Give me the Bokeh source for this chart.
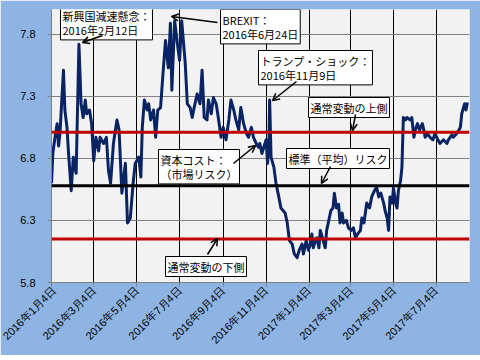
import pandas as pd
from math import pi
from bokeh.plotting import figure
from bokeh.models import (Range1d, FixedTicker, CustomJSTickFormatter, Span, Label,
                          Arrow, OpenHead, ColumnDataSource)
from bokeh.embed import file_html
from bokeh.resources import INLINE

# ---------------- data ----------------
dates = [
    "2016-01-04", "2016-01-06", "2016-01-09", "2016-01-12", "2016-01-14", "2016-01-16",
    "2016-01-21", "2016-01-23", "2016-01-26", "2016-01-28", "2016-02-01", "2016-02-04",
    "2016-02-08", "2016-02-12", "2016-02-15", "2016-02-18", "2016-02-21", "2016-02-23",
    "2016-02-27", "2016-03-01", "2016-03-04", "2016-03-07", "2016-03-11", "2016-03-13",
    "2016-03-18", "2016-03-22", "2016-03-25", "2016-03-28", "2016-04-01", "2016-04-06",
    "2016-04-09", "2016-04-13", "2016-04-18", "2016-04-21", "2016-04-25", "2016-04-29",
    "2016-05-02", "2016-05-07", "2016-05-10", "2016-05-12", "2016-05-15", "2016-05-19",
    "2016-05-21", "2016-05-24", "2016-05-28", "2016-05-31", "2016-06-03", "2016-06-07",
    "2016-06-10", "2016-06-14", "2016-06-18", "2016-06-21", "2016-06-23", "2016-06-27",
    "2016-07-01", "2016-07-04", "2016-07-07", "2016-07-12", "2016-07-15", "2016-07-19",
    "2016-07-22", "2016-07-24", "2016-07-29", "2016-08-02", "2016-08-05", "2016-08-08",
    "2016-08-12", "2016-08-14", "2016-08-18", "2016-08-21", "2016-08-25", "2016-08-28",
    "2016-09-01", "2016-09-04", "2016-09-08", "2016-09-12", "2016-09-15", "2016-09-19",
    "2016-09-22", "2016-09-26", "2016-09-29", "2016-10-03", "2016-10-07", "2016-10-10",
    "2016-10-14", "2016-10-17", "2016-10-21", "2016-10-24", "2016-10-26", "2016-10-29",
    "2016-11-04", "2016-11-06", "2016-11-08", "2016-11-09", "2016-11-11", "2016-11-15",
    "2016-11-18", "2016-11-22", "2016-11-25", "2016-11-28", "2016-12-01", "2016-12-04",
    "2016-12-07", "2016-12-11", "2016-12-14", "2016-12-18", "2016-12-21", "2016-12-25",
    "2016-12-27", "2016-12-31",
    "2017-01-03", "2017-01-06", "2017-01-08", "2017-01-10", "2017-01-13", "2017-01-15",
    "2017-01-18", "2017-01-20", "2017-01-24", "2017-01-27", "2017-01-29", "2017-02-01",
    "2017-02-04", "2017-02-07", "2017-02-09", "2017-02-12", "2017-02-15", "2017-02-17",
    "2017-02-20", "2017-02-22", "2017-02-26", "2017-03-01", "2017-03-05", "2017-03-08",
    "2017-03-11", "2017-03-14", "2017-03-18", "2017-03-20", "2017-03-23", "2017-03-25",
    "2017-03-27", "2017-03-31", "2017-04-03", "2017-04-07", "2017-04-10", "2017-04-13",
    "2017-04-16", "2017-04-20", "2017-04-22", "2017-04-25", "2017-04-27", "2017-04-29",
    "2017-05-02", "2017-05-04", "2017-05-07", "2017-05-09", "2017-05-11", "2017-05-14",
    "2017-05-16", "2017-05-18", "2017-05-21", "2017-05-23", "2017-05-28", "2017-05-30",
    "2017-06-02", "2017-06-04", "2017-06-07", "2017-06-10", "2017-06-14", "2017-06-16",
    "2017-06-18", "2017-06-21", "2017-06-25", "2017-06-29", "2017-07-02", "2017-07-06",
    "2017-07-09", "2017-07-14", "2017-07-19", "2017-07-21", "2017-07-26", "2017-07-28",
    "2017-08-02", "2017-08-07", "2017-08-09", "2017-08-13", "2017-08-15", "2017-08-17",
]
values = [
    6.60, 6.85, 6.97, 7.08, 6.90, 7.00,
    7.51, 7.19, 7.05, 6.86, 6.54, 6.81,
    6.68, 7.72, 7.24, 7.13, 7.27, 7.16,
    7.19, 7.08, 6.78, 6.97, 6.86, 6.97,
    6.92, 6.97, 6.70, 6.60, 6.92, 7.11,
    7.03, 6.52, 6.76, 6.28, 6.32, 6.60,
    6.76, 6.81, 6.65, 7.05, 7.27, 7.19,
    7.24, 7.11, 7.19, 6.97, 7.19, 7.21,
    7.45, 7.75, 7.53, 7.89, 7.35, 7.91,
    7.72, 7.59, 7.91, 7.57, 7.24, 7.21,
    7.13, 7.19, 7.32, 7.24, 7.51, 7.13,
    7.11, 7.27, 7.16, 7.29, 7.24, 7.13,
    6.97, 7.05, 6.95, 7.11, 7.27, 7.19,
    7.11, 7.03, 7.21, 7.08, 7.00, 6.97,
    7.05, 6.97, 6.92, 6.89, 6.92, 6.84,
    6.95, 6.76, 6.90, 7.27, 6.81, 6.73,
    6.60, 6.49, 6.40, 6.38, 6.36, 6.28,
    6.14, 6.11, 6.03, 6.00, 6.06, 6.11,
    6.03, 6.14,
    6.06, 6.11, 6.19, 6.08, 6.14, 6.16,
    6.08, 6.22, 6.14, 6.08, 6.22, 6.30,
    6.38, 6.40, 6.52, 6.40, 6.43, 6.28,
    6.36, 6.28, 6.30, 6.24, 6.22, 6.24,
    6.16, 6.19, 6.22, 6.32, 6.28, 6.36,
    6.44, 6.40, 6.49, 6.54, 6.57, 6.49,
    6.52, 6.44, 6.38, 6.32, 6.22, 6.49,
    6.44, 6.56, 6.44, 6.40, 6.54, 6.62,
    6.73, 7.13, 7.11, 7.13, 7.11, 7.13,
    6.97, 7.03, 7.08, 7.03, 7.08, 7.03,
    6.97, 7.00, 6.97, 6.95, 7.00, 6.95,
    6.92, 6.95, 6.92, 6.95, 6.99, 6.97,
    7.00, 7.05, 7.16, 7.24, 7.19, 7.25,
]
tick_dates = ["2016-01-04", "2016-03-04", "2016-05-04", "2016-07-04", "2016-09-04",
              "2016-11-04", "2017-01-04", "2017-03-04", "2017-05-04", "2017-07-04"]
y_ticks = [5.8, 6.3, 6.8, 7.3, 7.8]
mean_level = 6.58    # 標準（平均）リスク
upper_level = 7.01   # 通常変動の上側
lower_level = 6.15   # 通常変動の下側
x_first, x_last = "2016-01-04", "2017-08-20"
y_first, y_last = 5.8, 8.0

# text, text top-left (px), arrow start (px), arrow end (px)
annotations = [
    ("新興国減速懸念：\n2016年2月12日", (60, 5), (102, 35), (82, 42)),
    ("BREXIT：\n2016年6月24日", (220, 9), (217, 22), (171, 16)),
    ("トランプ・ショック：\n2016年11月9日", (258, 50), (296, 81), (272, 100)),
    ("通常変動の上側", (308, 97), (355, 114), (352, 130)),
    ("標準（平均）リスク", (286, 148), (330, 166), (321, 183)),
    ("資本コスト：\n（市場リスク）", (158, 149), (233, 163), (255, 145)),
    ("通常変動の下側", (165, 256), (207, 254), (217, 238)),
]


def ms(s):
    return pd.Timestamp(s).value / 1e6


# ---------------- layout ----------------
W, H = 480, 355
LEFT, RIGHT, TOP, BOTTOM = 51, 11, 9, 73
FW, FH = W - LEFT - RIGHT, H - TOP - BOTTOM


def X(px):
    return ms(x_first) + (px - LEFT) / FW * (ms(x_last) - ms(x_first))


def Y(py):
    return y_last - (py - TOP) / FH * (y_last - y_first)


p = figure(width=W, height=H, output_backend="svg", toolbar_location=None,
           x_axis_type="datetime",
           x_range=Range1d(ms(x_first), ms(x_last)),
           y_range=Range1d(y_first, y_last),
           min_border_left=LEFT, min_border_right=RIGHT,
           min_border_top=TOP, min_border_bottom=BOTTOM)
p.border_fill_color = "#8EB4E3"
p.background_fill_color = "#F2F2F2"
p.outline_line_color = None

src = ColumnDataSource(dict(x=pd.to_datetime(dates), y=values))
p.line("x", "y", source=src, line_color="#0A2463", line_width=3, line_join="round")

for lvl, col in [(upper_level, "#C00000"), (lower_level, "#C00000"), (mean_level, "black")]:
    p.add_layout(Span(location=lvl, dimension="width", line_color=col, line_width=3))

# axes
p.xaxis.ticker = FixedTicker(ticks=[ms(d) for d in tick_dates])
p.xaxis.formatter = CustomJSTickFormatter(code="""
const d = new Date(tick);
return d.getUTCFullYear() + "年" + (d.getUTCMonth() + 1) + "月" + d.getUTCDate() + "日";
""")
p.xaxis.major_label_orientation = pi / 4
p.yaxis.ticker = FixedTicker(ticks=y_ticks)
for ax in (p.xaxis, p.yaxis):
    ax.axis_line_color = "#808080"
    ax.major_tick_line_color = "#808080"
    ax.minor_tick_line_color = None
    ax.major_tick_in = 0
    ax.major_tick_out = 4
    ax.major_label_text_font = "Liberation Sans"
    ax.major_label_text_font_size = "11px"
    ax.major_label_text_color = "black"
p.yaxis.major_label_standoff = 12
p.xaxis.major_label_standoff = 2

p.xgrid.grid_line_color = "black"
p.xgrid.grid_line_width = 1
p.ygrid.grid_line_color = "#808080"
p.ygrid.grid_line_width = 1

for text, (tx, ty), (ax0, ay0), (ax1, ay1) in annotations:
    p.add_layout(Label(x=X(tx), y=Y(ty), text=text, text_align="left", text_baseline="top",
                       text_font="Noto Sans CJK JP", text_font_size="11px", text_color="black",
                       text_line_height=0.9,
                       background_fill_color="white", border_line_color="black",
                       border_line_width=1, padding=2))
    p.add_layout(Arrow(end=OpenHead(size=7, line_width=1.5, line_color="black"),
                       x_start=X(ax0), y_start=Y(ay0), x_end=X(ax1), y_end=Y(ay1),
                       line_width=1.5, line_color="black"))

open("out.html", "w").write(file_html(p, INLINE))
